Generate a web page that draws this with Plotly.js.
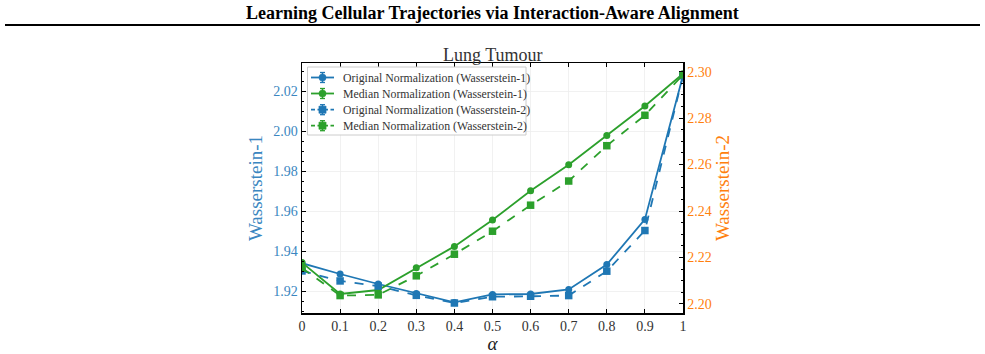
<!DOCTYPE html>
<html>
<head>
<meta charset="utf-8">
<script src="https://cdn.plot.ly/plotly-3.0.1.min.js"></script>
<style>
  html, body { margin: 0; padding: 0; background: #ffffff; }
  #chart { width: 985px; height: 354px; }
</style>
</head>
<body>
<div id="chart"></div>
<script>
// Mixing weight alpha
const alpha = [0, 0.1, 0.2, 0.3, 0.4, 0.5, 0.6, 0.7, 0.8, 0.9, 1.0];
const alphaLabels = ["0", "0.1", "0.2", "0.3", "0.4", "0.5", "0.6", "0.7", "0.8", "0.9", "1"];

// Wasserstein-1 (left axis)
const origW1 = [1.9339, 1.9285, 1.9235, 1.9188, 1.9143, 1.9183, 1.9185, 1.9208, 1.9332, 1.9558, 2.0277];
const medW1  = [1.9342, 1.9185, 1.9205, 1.9316, 1.9423, 1.9555, 1.9701, 1.9831, 1.9977, 2.0125, 2.0286];

// Wasserstein-2 (right axis)
const origW2 = [2.2142, 2.2099, 2.2077, 2.2037, 2.2004, 2.2031, 2.2033, 2.2036, 2.2141, 2.2316, 2.2982];
const medW2  = [2.2155, 2.2036, 2.2039, 2.2121, 2.2214, 2.2313, 2.2425, 2.2529, 2.2681, 2.2812, 2.2986];

const seriesNames = [
  "Original Normalization (Wasserstein-1)",
  "Median Normalization (Wasserstein-1)",
  "Original Normalization (Wasserstein-2)",
  "Median Normalization (Wasserstein-2)"
];

const BLUE = "#1f77b4";
const GREEN = "#2ca02c";
const ORANGE = "#ff7f0e";
const LBLUE = "#3a86c0";
const SERIF = "Liberation Serif, Times New Roman, serif";

const styles = [
  { color: BLUE,  dash: "solid", symbol: "circle", axis: "y"  },
  { color: GREEN, dash: "solid", symbol: "circle", axis: "y"  },
  { color: BLUE,  dash: "dash",  symbol: "square", axis: "y2" },
  { color: GREEN, dash: "dash",  symbol: "square", axis: "y2" }
];
const seriesValues = [origW1, medW1, origW2, medW2];

const traces = seriesValues.map((vals, i) => ({
  x: alpha, y: vals, name: seriesNames[i], mode: "lines+markers", yaxis: styles[i].axis,
  line: { color: styles[i].color, width: 1.8, dash: styles[i].dash },
  marker: { color: styles[i].color, symbol: styles[i].symbol, size: styles[i].symbol === "square" ? 7.5 : 7 },
  showlegend: false
}));

// Plot box geometry in page pixels, used to place the compact legend.
const M = { l: 302, r: 302, t: 63, b: 41 };
const W = 985, H = 354;
const PW = W - M.l - M.r, PH = H - M.t - M.b;
const px = X => (X - M.l) / PW;
const py = Y => (H - M.b - Y) / PH;

const shapes = [
  // rule under the heading
  { type: "line", xref: "paper", yref: "paper", x0: px(5), x1: px(980), y0: py(25), y1: py(25),
    line: { color: "#000000", width: 2.2 } },
  // legend frame
  { type: "rect", xref: "paper", yref: "paper", x0: px(307.5), x1: px(526), y0: py(67), y1: py(135),
    fillcolor: "rgba(255,255,255,0.92)", line: { color: "#cccccc", width: 1 }, layer: "above" }
];
const annotations = [
  { text: "Lung Tumour", xref: "paper", yref: "paper", x: 0.5, y: 1.0, yanchor: "bottom",
    showarrow: false, yshift: -4, font: { family: SERIF, size: 18, color: "#333333" } }
];

const rowY = [77.5, 93.5, 109.7, 125.7];
seriesNames.forEach((name, i) => {
  const s = styles[i], yy = py(rowY[i]), xc = px(322.5);
  shapes.push({ type: "line", xref: "paper", yref: "paper", x0: px(311), x1: px(334), y0: yy, y1: yy,
    line: { color: s.color, width: 1.8, dash: s.dash === "dash" ? "4px,2.5px" : "solid" }, layer: "above" });
  // error-bar glyph
  shapes.push({ type: "line", xref: "paper", yref: "paper", x0: xc, x1: xc, y0: py(rowY[i] - 5), y1: py(rowY[i] + 5),
    line: { color: s.color, width: 1.5 }, layer: "above" });
  [-5, 5].forEach(d => shapes.push({ type: "line", xref: "paper", yref: "paper",
    x0: px(320), x1: px(325), y0: py(rowY[i] + d), y1: py(rowY[i] + d),
    line: { color: s.color, width: 1.3 }, layer: "above" }));
  shapes.push({ type: s.symbol === "circle" ? "circle" : "rect", xref: "paper", yref: "paper",
    xsizemode: "pixel", ysizemode: "pixel", xanchor: xc, yanchor: yy,
    x0: -3.6, x1: 3.6, y0: -3.6, y1: 3.6,
    fillcolor: s.color, line: { color: s.color, width: 0.5 }, layer: "above" });
  annotations.push({ text: name, xref: "paper", yref: "paper", x: px(340.5), y: yy,
    xanchor: "left", yanchor: "middle", showarrow: false,
    font: { family: SERIF, size: 11.8, color: "#333333" } });
});

const layout = {
  width: W, height: H,
  margin: { l: M.l, r: M.r, t: M.t, b: M.b, pad: 0 },
  paper_bgcolor: "#ffffff", plot_bgcolor: "#ffffff",
  font: { family: SERIF, color: "#222222" },
  showlegend: false,
  xaxis: {
    range: [0, 1], tickvals: alpha, ticktext: alphaLabels,
    ticks: "inside", ticklen: 4, tickwidth: 1, tickcolor: "#000000",
    showline: true, linecolor: "#000000", linewidth: 1.5, mirror: "ticks",
    showgrid: true, gridcolor: "#eeeeee", gridwidth: 0.8,
    zeroline: false,
    tickfont: { family: SERIF, size: 14, color: "#333333" },
    ticklabelstandoff: 0,
    title: { text: "<i>α</i>", font: { family: SERIF, size: 19, color: "#222222" }, standoff: 6 }
  },
  yaxis: {
    range: [1.909, 2.034], tickvals: [1.92, 1.94, 1.96, 1.98, 2.00, 2.02],
    ticktext: ["1.92", "1.94", "1.96", "1.98", "2.00", "2.02"],
    ticks: "inside", ticklen: 4, tickwidth: 1, tickcolor: "#000000",
    minor: { ticks: "inside", ticklen: 2, tickwidth: 1, tickcolor: "#000000", dtick: 0.005, tick0: 1.92, showgrid: false },
    showline: true, linecolor: "#000000", linewidth: 1.5,
    showgrid: true, gridcolor: "#eeeeee", gridwidth: 0.8,
    zeroline: false,
    tickfont: { family: SERIF, size: 14, color: LBLUE },
    title: { text: "Wasserstein-1", font: { family: SERIF, size: 19, color: LBLUE }, standoff: 5 }
  },
  yaxis2: {
    overlaying: "y", side: "right",
    range: [2.1961, 2.3037], tickvals: [2.20, 2.22, 2.24, 2.26, 2.28, 2.30],
    ticktext: ["2.20", "2.22", "2.24", "2.26", "2.28", "2.30"],
    ticks: "inside", ticklen: 4, tickwidth: 1, tickcolor: "#000000",
    minor: { ticks: "inside", ticklen: 2, tickwidth: 1, tickcolor: "#000000", dtick: 0.005, tick0: 2.20, showgrid: false },
    showline: true, linecolor: "#000000", linewidth: 1.5,
    showgrid: false, zeroline: false,
    tickfont: { family: SERIF, size: 14, color: ORANGE },
    title: { text: "Wasserstein-2", font: { family: SERIF, size: 19, color: ORANGE }, standoff: 5 }
  },
  title: {
    text: "<b>Learning Cellular Trajectories via Interaction-Aware Alignment</b>",
    font: { family: SERIF, size: 18, color: "#000000" },
    x: 0.5, xanchor: "center", xref: "paper", y: 0.963, yref: "container", yanchor: "middle"
  },
  annotations: annotations,
  shapes: shapes
};

Plotly.newPlot("chart", traces, layout, { displayModeBar: false, staticPlot: true });
</script>
</body>
</html>
